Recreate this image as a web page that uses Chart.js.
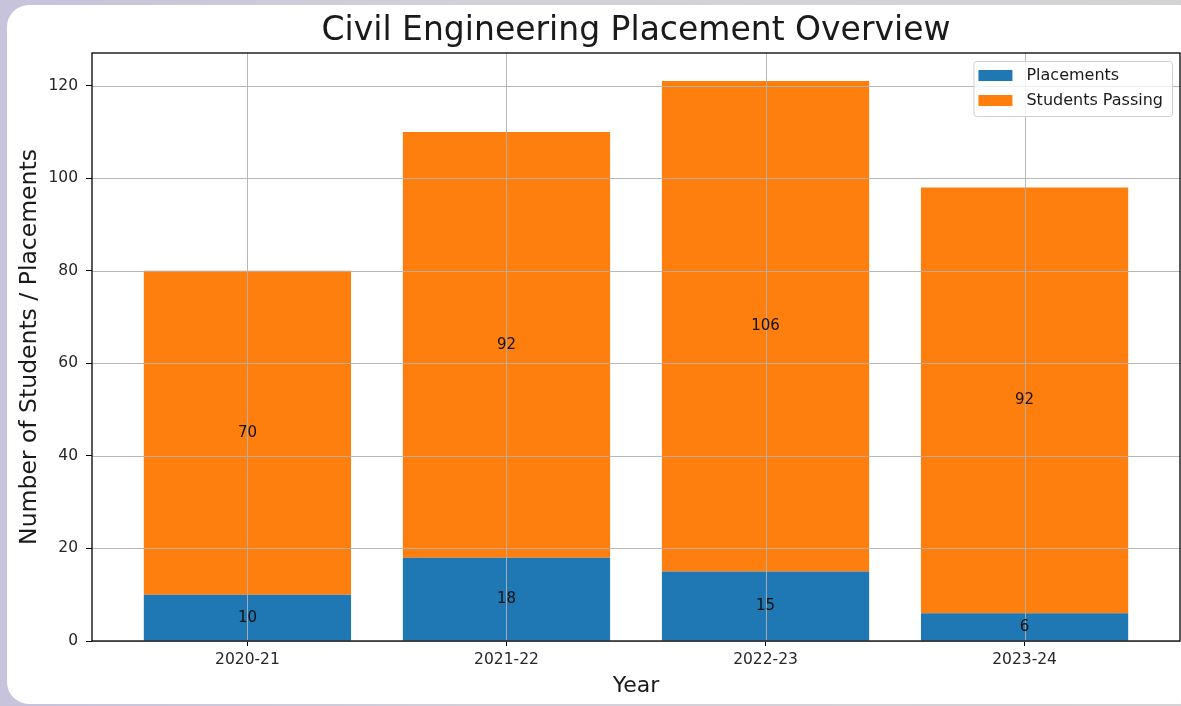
<!DOCTYPE html>
<html>
<head>
<meta charset="utf-8">
<script src="https://cdn.jsdelivr.net/npm/chart.js@4/dist/chart.umd.min.js"></script>
<style>
  html, body { margin: 0; padding: 0; }
  body {
    width: 1181px; height: 706px; overflow: hidden; position: relative;
    background: linear-gradient(90deg, #c6c3da 0%, #d3d0da 40%, #d6d3d6 100%);
  }
  .card {
    position: absolute; left: 7px; top: 5px; width: 1192px; height: 699px;
    background: #fff; border-radius: 22px;
  }
  #chart { position: absolute; left: 0; top: 0; }
</style>
</head>
<body>
<div class="card"></div>
<canvas id="chart" width="1181" height="706"></canvas>
<script>
// chart data
const years = ['2020-21', '2021-22', '2022-23', '2023-24'];
const placements = [10, 18, 15, 6];
const studentsPassing = [70, 92, 106, 92];
const yTickValues = [0, 20, 40, 60, 80, 100, 120];

const FONT = 'DejaVu Sans';
const blue = '#1f77b4';
const orange = '#ff7f0e';

// grid lines go over the bars, plus segment labels, frame and legend
const overlay = {
    id: 'overlay',
    afterDatasetsDraw(chart) {
        const { ctx, chartArea: a, scales: { x, y } } = chart;
        ctx.save();
        ctx.strokeStyle = 'rgba(176,176,176,0.9)';
        ctx.lineWidth = 1;
        x.ticks.forEach(t => {
            const px = Math.round(x.getPixelForValue(t.value)) + 0.5;
            ctx.beginPath(); ctx.moveTo(px, a.top); ctx.lineTo(px, a.bottom); ctx.stroke();
        });
        y.ticks.forEach(t => {
            const py = Math.round(y.getPixelForValue(t.value)) + 0.5;
            ctx.beginPath(); ctx.moveTo(a.left, py); ctx.lineTo(a.right, py); ctx.stroke();
        });

        // value in the middle of every segment
        ctx.fillStyle = '#111';
        ctx.font = `15px "${FONT}"`;
        ctx.textAlign = 'center';
        ctx.textBaseline = 'middle';
        chart.data.datasets.forEach((ds, di) => {
            chart.getDatasetMeta(di).data.forEach((bar, i) => {
                const { x: bx, y: by, base } = bar.getProps(['x', 'y', 'base'], true);
                ctx.fillText(ds.data[i].y, bx, (by + base) / 2);
            });
        });
        ctx.restore();
    },
    afterDraw(chart) {
        const { ctx, chartArea: a } = chart;
        ctx.save();
        ctx.strokeStyle = '#000';
        ctx.lineWidth = 1.3;
        ctx.strokeRect(a.left, a.top, a.right - a.left, a.bottom - a.top);

        // legend in the upper right corner
        const labels = chart.data.datasets.map(ds => ds.label);
        ctx.font = `16px "${FONT}"`;
        const textW = Math.max(...labels.map(l => ctx.measureText(l).width));
        const w = 5 + 34 + 14 + textW + 9;
        const h = 55;
        const lx = a.right - 8 - w;
        const ly = a.top + 8;
        ctx.fillStyle = 'rgba(255,255,255,0.8)';
        ctx.strokeStyle = '#d0d0d0';
        ctx.lineWidth = 1;
        ctx.beginPath();
        ctx.roundRect(lx + 0.5, ly + 0.5, w, h, 3);
        ctx.fill();
        ctx.stroke();
        ctx.textAlign = 'left';
        ctx.textBaseline = 'middle';
        chart.data.datasets.forEach((ds, i) => {
            const cy = ly + 14.5 + i * 25;
            ctx.fillStyle = ds.backgroundColor;
            ctx.fillRect(lx + 5, cy - 5.5, 34, 11);
            ctx.fillStyle = '#1a1a1a';
            ctx.fillText(ds.label, lx + 53, cy);
        });
        ctx.restore();
    }
};

const tickFont = { family: FONT, size: 15.5 };

new Chart(document.getElementById('chart'), {
    type: 'bar',
    data: {
        datasets: [{
            label: 'Placements',
            data: placements.map((v, i) => ({ x: i, y: v })),
            backgroundColor: blue,
            barPercentage: 0.8,
            categoryPercentage: 1
        }, {
            label: 'Students Passing',
            data: studentsPassing.map((v, i) => ({ x: i, y: v })),
            backgroundColor: orange,
            barPercentage: 0.8,
            categoryPercentage: 1
        }]
    },
    options: {
        responsive: false,
        animation: false,
        layout: { padding: { top: 0, left: 0, right: 1, bottom: 0 } },
        plugins: {
            legend: { display: false },
            tooltip: { enabled: false },
            title: {
                display: true,
                fullSize: false,
                text: 'Civil Engineering Placement Overview',
                color: '#1a1a1a',
                font: { family: FONT, size: 33, weight: 'normal' },
                padding: { top: 11.5, bottom: 1.9 }
            }
        },
        scales: {
            x: {
                type: 'linear',
                stacked: true,
                offset: false,
                min: -0.6,
                max: 3.6,
                afterBuildTicks: s => { s.ticks = years.map((_, i) => ({ value: i })); },
                afterFit: s => { s.height = 65; },
                ticks: {
                    color: '#262626',
                    font: tickFont,
                    padding: 5,
                    callback: v => years[v]
                },
                grid: { offset: false, drawOnChartArea: false, drawTicks: true, tickLength: 5, color: '#000' },
                border: { display: false },
                title: {
                    display: true,
                    text: 'Year',
                    color: '#1a1a1a',
                    font: { family: FONT, size: 22 },
                    padding: { top: 0, bottom: 7 }
                }
            },
            y: {
                stacked: true,
                min: 0,
                max: 127.05,
                afterBuildTicks: s => { s.ticks = yTickValues.map(v => ({ value: v })); },
                afterFit: s => { s.width = 92; },
                ticks: { color: '#262626', font: tickFont, padding: 8 },
                grid: { drawOnChartArea: false, drawTicks: true, tickLength: 6, color: '#000' },
                border: { display: false },
                title: {
                    display: true,
                    text: 'Number of Students / Placements',
                    color: '#1a1a1a',
                    font: { family: FONT, size: 23.5 },
                    padding: { top: 16, bottom: 0 }
                }
            }
        }
    },
    plugins: [overlay]
});
</script>
</body>
</html>
